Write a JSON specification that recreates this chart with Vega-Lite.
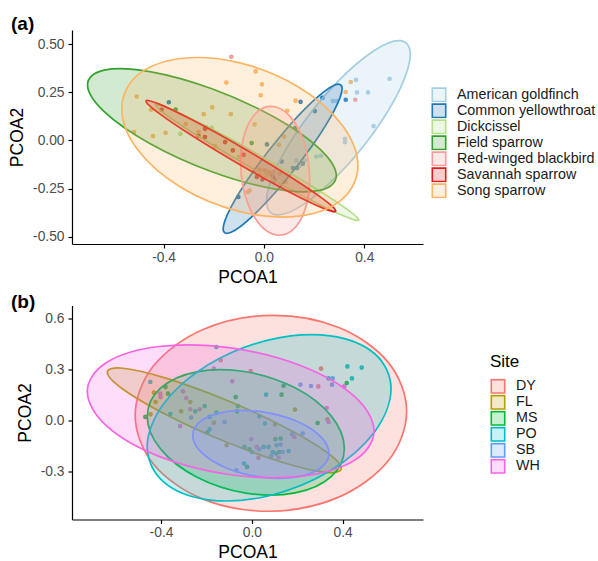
{
 "$schema": "https://vega.github.io/schema/vega-lite/v6.json",
 "padding": {"left": 8, "top": 15, "right": 5, "bottom": 0},
 "background": "white",
 "config": {
  "font": "Liberation Sans",
  "view": {"stroke": null},
  "axis": {"grid": false, "domainColor": "#000000", "domainWidth": 1.2, "tickColor": "#000000", "tickWidth": 1.2, "tickSize": 4, "labelPadding": 4, "labelFont": "Liberation Sans", "labelFontSize": 13.8, "labelColor": "#4d4d4d", "titleFont": "Liberation Sans", "titleFontSize": 17.5, "titleFontWeight": "normal", "titleColor": "#000000", "titlePadding": 6},
  "axisX": {"labelPadding": 2, "titlePadding": 4.5},
  "legend": {"padding": 0, "labelFont": "Liberation Sans", "labelFontSize": 14.3, "labelColor": "#1a1a1a", "labelOffset": 10, "rowPadding": 0, "clipHeight": 15.6, "symbolType": "square", "symbolSize": 180, "symbolStrokeWidth": 1.6, "titleFont": "Liberation Sans", "titleFontSize": 17, "titleFontWeight": "normal", "titleColor": "#000000", "titlePadding": 8}
 },
 "datasets": {
  "ptsA": [
   {"s": "American goldfinch", "x": 0.275, "y": 0.204}, {"s": "American goldfinch", "x": 0.291, "y": 0.204}, {"s": "American goldfinch", "x": 0.367, "y": 0.314}, {"s": "American goldfinch", "x": 0.371, "y": 0.249}, {"s": "American goldfinch", "x": 0.415, "y": 0.249}, {"s": "American goldfinch", "x": 0.501, "y": 0.320}, {"s": "American goldfinch", "x": 0.437, "y": 0.074}, {"s": "American goldfinch", "x": 0.323, "y": 0.008}, {"s": "American goldfinch", "x": 0.323, "y": -0.009}, {"s": "American goldfinch", "x": 0.209, "y": -0.084}, {"s": "American goldfinch", "x": 0.227, "y": -0.080}, {"s": "American goldfinch", "x": 0.142, "y": -0.133}, {"s": "American goldfinch", "x": 0.163, "y": -0.104}, {"s": "American goldfinch", "x": 0.129, "y": -0.104},
   {"s": "Common yellowthroat", "x": 0.146, "y": 0.200}, {"s": "Common yellowthroat", "x": -0.379, "y": 0.198}, {"s": "Common yellowthroat", "x": 0.203, "y": 0.152}, {"s": "Common yellowthroat", "x": 0.233, "y": 0.221}, {"s": "Common yellowthroat", "x": 0.326, "y": 0.211}, {"s": "Common yellowthroat", "x": 0.012, "y": -0.021}, {"s": "Common yellowthroat", "x": 0.071, "y": -0.110}, {"s": "Common yellowthroat", "x": 0.116, "y": -0.144}, {"s": "Common yellowthroat", "x": 0.132, "y": -0.144}, {"s": "Common yellowthroat", "x": 0.155, "y": -0.121}, {"s": "Common yellowthroat", "x": 0.043, "y": -0.208}, {"s": "Common yellowthroat", "x": -0.102, "y": -0.294},
   {"s": "Dickcissel", "x": -0.208, "y": 0.065}, {"s": "Dickcissel", "x": -0.333, "y": 0.034}, {"s": "Dickcissel", "x": -0.100, "y": -0.085},
   {"s": "Field sparrow", "x": -0.352, "y": 0.160}, {"s": "Field sparrow", "x": -0.049, "y": -0.014}, {"s": "Field sparrow", "x": 0.125, "y": 0.064}, {"s": "Field sparrow", "x": -0.230, "y": 0.067},
   {"s": "Red-winged blackbird", "x": -0.130, "y": 0.434}, {"s": "Red-winged blackbird", "x": 0.364, "y": 0.211}, {"s": "Red-winged blackbird", "x": 0.003, "y": -0.156}, {"s": "Red-winged blackbird", "x": 0.029, "y": -0.173},
   {"s": "Savannah sparrow", "x": -0.408, "y": 0.159}, {"s": "Savannah sparrow", "x": 0.036, "y": -0.190}, {"s": "Savannah sparrow", "x": -0.081, "y": -0.075}, {"s": "Savannah sparrow", "x": -0.028, "y": -0.190}, {"s": "Savannah sparrow", "x": -0.006, "y": -0.203}, {"s": "Savannah sparrow", "x": -0.235, "y": 0.060}, {"s": "Savannah sparrow", "x": -0.261, "y": 0.025}, {"s": "Savannah sparrow", "x": -0.235, "y": 0.017}, {"s": "Savannah sparrow", "x": -0.155, "y": -0.009}, {"s": "Savannah sparrow", "x": -0.124, "y": -0.052},
   {"s": "Song sparrow", "x": -0.033, "y": 0.358}, {"s": "Song sparrow", "x": -0.150, "y": 0.300}, {"s": "Song sparrow", "x": -0.008, "y": 0.291}, {"s": "Song sparrow", "x": -0.013, "y": 0.234}, {"s": "Song sparrow", "x": -0.507, "y": 0.228}, {"s": "Song sparrow", "x": 0.126, "y": 0.206}, {"s": "Song sparrow", "x": -0.206, "y": 0.171}, {"s": "Song sparrow", "x": -0.240, "y": 0.136}, {"s": "Song sparrow", "x": -0.132, "y": 0.136}, {"s": "Song sparrow", "x": -0.450, "y": 0.159}, {"s": "Song sparrow", "x": -0.312, "y": 0.085}, {"s": "Song sparrow", "x": 0.093, "y": 0.154}, {"s": "Song sparrow", "x": 0.326, "y": 0.251}, {"s": "Song sparrow", "x": 0.346, "y": 0.303}, {"s": "Song sparrow", "x": -0.037, "y": 0.083}, {"s": "Song sparrow", "x": 0.060, "y": -0.023}, {"s": "Song sparrow", "x": 0.080, "y": 0.020}, {"s": "Song sparrow", "x": -0.037, "y": -0.156}, {"s": "Song sparrow", "x": -0.017, "y": -0.153}, {"s": "Song sparrow", "x": 0.020, "y": -0.165}, {"s": "Song sparrow", "x": 0.039, "y": -0.165}, {"s": "Song sparrow", "x": -0.017, "y": -0.177}, {"s": "Song sparrow", "x": 0.010, "y": -0.182}, {"s": "Song sparrow", "x": 0.063, "y": -0.173}, {"s": "Song sparrow", "x": 0.086, "y": -0.216}, {"s": "Song sparrow", "x": -0.057, "y": -0.260}, {"s": "Song sparrow", "x": -0.064, "y": -0.268}, {"s": "Song sparrow", "x": -0.392, "y": 0.039}, {"s": "Song sparrow", "x": -0.442, "y": 0.022}, {"s": "Song sparrow", "x": -0.518, "y": 0.043}, {"s": "Song sparrow", "x": -0.195, "y": -0.030}, {"s": "Song sparrow", "x": -0.261, "y": 0.043}
  ],
  "ellA": [
   {"s": "American goldfinch", "i": 0, "x": 0.5833, "y": 0.4468}, {"s": "American goldfinch", "i": 1, "x": 0.5449, "y": 0.5174}, {"s": "American goldfinch", "i": 2, "x": 0.4400, "y": 0.4669}, {"s": "American goldfinch", "i": 3, "x": 0.2967, "y": 0.3088}, {"s": "American goldfinch", "i": 4, "x": 0.1534, "y": 0.0855}, {"s": "American goldfinch", "i": 5, "x": 0.0485, "y": -0.1432}, {"s": "American goldfinch", "i": 6, "x": 0.0101, "y": -0.3160}, {"s": "American goldfinch", "i": 7, "x": 0.0485, "y": -0.3866}, {"s": "American goldfinch", "i": 8, "x": 0.1534, "y": -0.3361}, {"s": "American goldfinch", "i": 9, "x": 0.2967, "y": -0.1780}, {"s": "American goldfinch", "i": 10, "x": 0.4400, "y": 0.0453}, {"s": "American goldfinch", "i": 11, "x": 0.5449, "y": 0.2740},
   {"s": "Common yellowthroat", "i": 0, "x": 0.3116, "y": 0.2693}, {"s": "Common yellowthroat", "i": 1, "x": 0.2798, "y": 0.2861}, {"s": "Common yellowthroat", "i": 2, "x": 0.1931, "y": 0.2006}, {"s": "Common yellowthroat", "i": 3, "x": 0.0745, "y": 0.0358}, {"s": "Common yellowthroat", "i": 4, "x": -0.0441, "y": -0.1642}, {"s": "Common yellowthroat", "i": 5, "x": -0.1308, "y": -0.3457}, {"s": "Common yellowthroat", "i": 6, "x": -0.1626, "y": -0.4603}, {"s": "Common yellowthroat", "i": 7, "x": -0.1308, "y": -0.4771}, {"s": "Common yellowthroat", "i": 8, "x": -0.0441, "y": -0.3916}, {"s": "Common yellowthroat", "i": 9, "x": 0.0745, "y": -0.2268}, {"s": "Common yellowthroat", "i": 10, "x": 0.1931, "y": -0.0268}, {"s": "Common yellowthroat", "i": 11, "x": 0.2798, "y": 0.1547},
   {"s": "Dickcissel", "i": 0, "x": 0.3778, "y": -0.4128}, {"s": "Dickcissel", "i": 1, "x": 0.3235, "y": -0.3505}, {"s": "Dickcissel", "i": 2, "x": 0.1754, "y": -0.2252}, {"s": "Dickcissel", "i": 3, "x": -0.0271, "y": -0.0702}, {"s": "Dickcissel", "i": 4, "x": -0.2296, "y": 0.0728}, {"s": "Dickcissel", "i": 5, "x": -0.3777, "y": 0.1655}, {"s": "Dickcissel", "i": 6, "x": -0.4320, "y": 0.1830}, {"s": "Dickcissel", "i": 7, "x": -0.3777, "y": 0.1207}, {"s": "Dickcissel", "i": 8, "x": -0.2296, "y": -0.0046}, {"s": "Dickcissel", "i": 9, "x": -0.0271, "y": -0.1596}, {"s": "Dickcissel", "i": 10, "x": 0.1754, "y": -0.3026}, {"s": "Dickcissel", "i": 11, "x": 0.3235, "y": -0.3953},
   {"s": "Field sparrow", "i": 0, "x": 0.2885, "y": -0.1837}, {"s": "Field sparrow", "i": 1, "x": 0.2221, "y": -0.0444}, {"s": "Field sparrow", "i": 2, "x": 0.0406, "y": 0.1208}, {"s": "Field sparrow", "i": 3, "x": -0.2073, "y": 0.2678}, {"s": "Field sparrow", "i": 4, "x": -0.4552, "y": 0.3570}, {"s": "Field sparrow", "i": 5, "x": -0.6367, "y": 0.3646}, {"s": "Field sparrow", "i": 6, "x": -0.7031, "y": 0.2885}, {"s": "Field sparrow", "i": 7, "x": -0.6367, "y": 0.1492}, {"s": "Field sparrow", "i": 8, "x": -0.4552, "y": -0.0160}, {"s": "Field sparrow", "i": 9, "x": -0.2073, "y": -0.1630}, {"s": "Field sparrow", "i": 10, "x": 0.0406, "y": -0.2522}, {"s": "Field sparrow", "i": 11, "x": 0.2221, "y": -0.2598},
   {"s": "Red-winged blackbird", "i": 0, "x": 0.1821, "y": -0.1993}, {"s": "Red-winged blackbird", "i": 1, "x": 0.1637, "y": -0.0276}, {"s": "Red-winged blackbird", "i": 2, "x": 0.1134, "y": 0.1090}, {"s": "Red-winged blackbird", "i": 3, "x": 0.0446, "y": 0.1743}, {"s": "Red-winged blackbird", "i": 4, "x": -0.0242, "y": 0.1506}, {"s": "Red-winged blackbird", "i": 5, "x": -0.0745, "y": 0.0442}, {"s": "Red-winged blackbird", "i": 6, "x": -0.0929, "y": -0.1163}, {"s": "Red-winged blackbird", "i": 7, "x": -0.0745, "y": -0.2880}, {"s": "Red-winged blackbird", "i": 8, "x": -0.0242, "y": -0.4246}, {"s": "Red-winged blackbird", "i": 9, "x": 0.0446, "y": -0.4899}, {"s": "Red-winged blackbird", "i": 10, "x": 0.1134, "y": -0.4662}, {"s": "Red-winged blackbird", "i": 11, "x": 0.1637, "y": -0.3598},
   {"s": "Savannah sparrow", "i": 0, "x": 0.2861, "y": -0.3661}, {"s": "Savannah sparrow", "i": 1, "x": 0.2354, "y": -0.3039}, {"s": "Savannah sparrow", "i": 2, "x": 0.0971, "y": -0.1821}, {"s": "Savannah sparrow", "i": 3, "x": -0.0919, "y": -0.0332}, {"s": "Savannah sparrow", "i": 4, "x": -0.2809, "y": 0.1029}, {"s": "Savannah sparrow", "i": 5, "x": -0.4192, "y": 0.1895}, {"s": "Savannah sparrow", "i": 6, "x": -0.4699, "y": 0.2037}, {"s": "Savannah sparrow", "i": 7, "x": -0.4192, "y": 0.1415}, {"s": "Savannah sparrow", "i": 8, "x": -0.2809, "y": 0.0197}, {"s": "Savannah sparrow", "i": 9, "x": -0.0919, "y": -0.1292}, {"s": "Savannah sparrow", "i": 10, "x": 0.0971, "y": -0.2653}, {"s": "Savannah sparrow", "i": 11, "x": 0.2354, "y": -0.3519},
   {"s": "Song sparrow", "i": 0, "x": 0.3746, "y": -0.1331}, {"s": "Song sparrow", "i": 1, "x": 0.3115, "y": 0.0800}, {"s": "Song sparrow", "i": 2, "x": 0.1393, "y": 0.2759}, {"s": "Song sparrow", "i": 3, "x": -0.0961, "y": 0.4022}, {"s": "Song sparrow", "i": 4, "x": -0.3315, "y": 0.4251}, {"s": "Song sparrow", "i": 5, "x": -0.5037, "y": 0.3384}, {"s": "Song sparrow", "i": 6, "x": -0.5668, "y": 0.1653}, {"s": "Song sparrow", "i": 7, "x": -0.5037, "y": -0.0478}, {"s": "Song sparrow", "i": 8, "x": -0.3315, "y": -0.2437}, {"s": "Song sparrow", "i": 9, "x": -0.0961, "y": -0.3700}, {"s": "Song sparrow", "i": 10, "x": 0.1393, "y": -0.3929}, {"s": "Song sparrow", "i": 11, "x": 0.3115, "y": -0.3062}
  ],
  "ptsB": [
   {"s": "DY", "x": -0.137, "y": 0.354}, {"s": "DY", "x": -0.005, "y": 0.291}, {"s": "DY", "x": 0.305, "y": 0.305}, {"s": "DY", "x": 0.293, "y": 0.200}, {"s": "DY", "x": 0.333, "y": 0.006}, {"s": "DY", "x": 0.029, "y": -0.222},
   {"s": "FL", "x": 0.190, "y": 0.063}, {"s": "FL", "x": 0.102, "y": -0.024}, {"s": "FL", "x": -0.111, "y": -0.147}, {"s": "FL", "x": -0.431, "y": 0.163}, {"s": "FL", "x": -0.424, "y": 0.108}, {"s": "FL", "x": -0.446, "y": 0.035}, {"s": "FL", "x": -0.271, "y": 0.108}, {"s": "FL", "x": -0.311, "y": 0.053}, {"s": "FL", "x": -0.167, "y": -0.014},
   {"s": "MS", "x": 0.418, "y": 0.220}, {"s": "MS", "x": 0.140, "y": 0.204}, {"s": "MS", "x": 0.131, "y": 0.151}, {"s": "MS", "x": 0.290, "y": -0.016}, {"s": "MS", "x": 0.104, "y": -0.112}, {"s": "MS", "x": 0.127, "y": -0.108}, {"s": "MS", "x": -0.011, "y": -0.171}, {"s": "MS", "x": 0.121, "y": -0.187}, {"s": "MS", "x": -0.021, "y": -0.275}, {"s": "MS", "x": -0.380, "y": 0.196}, {"s": "MS", "x": -0.369, "y": 0.157}, {"s": "MS", "x": -0.469, "y": 0.020}, {"s": "MS", "x": -0.071, "y": 0.137}, {"s": "MS", "x": -0.065, "y": 0.053}, {"s": "MS", "x": -0.196, "y": -0.072},
   {"s": "PO", "x": -0.156, "y": 0.432}, {"s": "PO", "x": 0.421, "y": 0.318}, {"s": "PO", "x": 0.484, "y": 0.311}, {"s": "PO", "x": 0.441, "y": 0.247}, {"s": "PO", "x": 0.338, "y": 0.247}, {"s": "PO", "x": 0.063, "y": 0.151}, {"s": "PO", "x": 0.033, "y": 0.024}, {"s": "PO", "x": 0.058, "y": -0.019}, {"s": "PO", "x": 0.109, "y": -0.147}, {"s": "PO", "x": -0.033, "y": -0.157}, {"s": "PO", "x": 0.001, "y": -0.187}, {"s": "PO", "x": 0.052, "y": -0.157}, {"s": "PO", "x": 0.074, "y": -0.157}, {"s": "PO", "x": 0.092, "y": -0.187}, {"s": "PO", "x": 0.107, "y": -0.196}, {"s": "PO", "x": 0.162, "y": -0.181}, {"s": "PO", "x": -0.034, "y": -0.255}, {"s": "PO", "x": -0.447, "y": 0.226}, {"s": "PO", "x": -0.249, "y": 0.053}, {"s": "PO", "x": -0.208, "y": 0.084}, {"s": "PO", "x": -0.359, "y": 0.037}, {"s": "PO", "x": -0.061, "y": 0.084}, {"s": "PO", "x": -0.156, "y": 0.045}, {"s": "PO", "x": -0.186, "y": 0.020}, {"s": "PO", "x": -0.186, "y": -0.053},
   {"s": "SB", "x": 0.356, "y": 0.247}, {"s": "SB", "x": 0.353, "y": 0.210}, {"s": "SB", "x": 0.214, "y": 0.210}, {"s": "SB", "x": 0.261, "y": 0.202}, {"s": "SB", "x": 0.224, "y": -0.078}, {"s": "SB", "x": 0.177, "y": -0.082}, {"s": "SB", "x": 0.127, "y": -0.143}, {"s": "SB", "x": 0.033, "y": -0.171}, {"s": "SB", "x": 0.085, "y": -0.210}, {"s": "SB", "x": 0.136, "y": -0.187}, {"s": "SB", "x": -0.068, "y": -0.295}, {"s": "SB", "x": -0.267, "y": 0.016}, {"s": "SB", "x": -0.120, "y": -0.010},
   {"s": "WH", "x": -0.167, "y": 0.305}, {"s": "WH", "x": 0.407, "y": 0.200}, {"s": "WH", "x": 0.330, "y": 0.072}, {"s": "WH", "x": 0.338, "y": -0.010}, {"s": "WH", "x": 0.187, "y": -0.098}, {"s": "WH", "x": -0.002, "y": -0.112}, {"s": "WH", "x": 0.021, "y": -0.157}, {"s": "WH", "x": 0.118, "y": -0.220}, {"s": "WH", "x": -0.403, "y": 0.157}, {"s": "WH", "x": -0.402, "y": 0.137}, {"s": "WH", "x": -0.303, "y": 0.171}, {"s": "WH", "x": -0.289, "y": 0.131}, {"s": "WH", "x": -0.271, "y": 0.065}, {"s": "WH", "x": -0.230, "y": 0.065}, {"s": "WH", "x": -0.316, "y": -0.034}, {"s": "WH", "x": -0.086, "y": 0.230}
  ],
  "ellB": [
   {"s": "DY", "i": 0, "x": 0.6819, "y": 0.0530}, {"s": "DY", "i": 1, "x": 0.6018, "y": 0.3402}, {"s": "DY", "i": 2, "x": 0.3830, "y": 0.5472}, {"s": "DY", "i": 3, "x": 0.0841, "y": 0.6187}, {"s": "DY", "i": 4, "x": -0.2148, "y": 0.5354}, {"s": "DY", "i": 5, "x": -0.4336, "y": 0.3198}, {"s": "DY", "i": 6, "x": -0.5137, "y": 0.0294}, {"s": "DY", "i": 7, "x": -0.4336, "y": -0.2578}, {"s": "DY", "i": 8, "x": -0.2148, "y": -0.4648}, {"s": "DY", "i": 9, "x": 0.0841, "y": -0.5363}, {"s": "DY", "i": 10, "x": 0.3830, "y": -0.4530}, {"s": "DY", "i": 11, "x": 0.6018, "y": -0.2374},
   {"s": "FL", "i": 0, "x": 0.3943, "y": -0.2829}, {"s": "FL", "i": 1, "x": 0.3252, "y": -0.1831}, {"s": "FL", "i": 2, "x": 0.1366, "y": -0.0344}, {"s": "FL", "i": 3, "x": -0.1211, "y": 0.1237}, {"s": "FL", "i": 4, "x": -0.3788, "y": 0.2486}, {"s": "FL", "i": 5, "x": -0.5674, "y": 0.3069}, {"s": "FL", "i": 6, "x": -0.6365, "y": 0.2829}, {"s": "FL", "i": 7, "x": -0.5674, "y": 0.1831}, {"s": "FL", "i": 8, "x": -0.3788, "y": 0.0344}, {"s": "FL", "i": 9, "x": -0.1211, "y": -0.1237}, {"s": "FL", "i": 10, "x": 0.1366, "y": -0.2486}, {"s": "FL", "i": 11, "x": 0.3252, "y": -0.3069},
   {"s": "MS", "i": 0, "x": 0.4075, "y": -0.1656}, {"s": "MS", "i": 1, "x": 0.3494, "y": 0.0259}, {"s": "MS", "i": 2, "x": 0.1906, "y": 0.1913}, {"s": "MS", "i": 3, "x": -0.0264, "y": 0.2864}, {"s": "MS", "i": 4, "x": -0.2434, "y": 0.2857}, {"s": "MS", "i": 5, "x": -0.4022, "y": 0.1893}, {"s": "MS", "i": 6, "x": -0.4603, "y": 0.0230}, {"s": "MS", "i": 7, "x": -0.4022, "y": -0.1685}, {"s": "MS", "i": 8, "x": -0.2434, "y": -0.3339}, {"s": "MS", "i": 9, "x": -0.0264, "y": -0.4290}, {"s": "MS", "i": 10, "x": 0.1906, "y": -0.4283}, {"s": "MS", "i": 11, "x": 0.3494, "y": -0.3319},
   {"s": "PO", "i": 0, "x": 0.6132, "y": 0.1856}, {"s": "PO", "i": 1, "x": 0.5412, "y": 0.3925}, {"s": "PO", "i": 2, "x": 0.3447, "y": 0.4982}, {"s": "PO", "i": 3, "x": 0.0762, "y": 0.4743}, {"s": "PO", "i": 4, "x": -0.1923, "y": 0.3272}, {"s": "PO", "i": 5, "x": -0.3888, "y": 0.0965}, {"s": "PO", "i": 6, "x": -0.4608, "y": -0.1562}, {"s": "PO", "i": 7, "x": -0.3888, "y": -0.3631}, {"s": "PO", "i": 8, "x": -0.1923, "y": -0.4688}, {"s": "PO", "i": 9, "x": 0.0762, "y": -0.4449}, {"s": "PO", "i": 10, "x": 0.3447, "y": -0.2978}, {"s": "PO", "i": 11, "x": 0.5412, "y": -0.0671},
   {"s": "SB", "i": 0, "x": 0.3401, "y": -0.1950}, {"s": "SB", "i": 1, "x": 0.2999, "y": -0.0915}, {"s": "SB", "i": 2, "x": 0.1901, "y": -0.0016}, {"s": "SB", "i": 3, "x": 0.0401, "y": 0.0507}, {"s": "SB", "i": 4, "x": -0.1099, "y": 0.0514}, {"s": "SB", "i": 5, "x": -0.2197, "y": 0.0003}, {"s": "SB", "i": 6, "x": -0.2599, "y": -0.0890}, {"s": "SB", "i": 7, "x": -0.2197, "y": -0.1925}, {"s": "SB", "i": 8, "x": -0.1099, "y": -0.2824}, {"s": "SB", "i": 9, "x": 0.0401, "y": -0.3347}, {"s": "SB", "i": 10, "x": 0.1901, "y": -0.3354}, {"s": "SB", "i": 11, "x": 0.2999, "y": -0.2843},
   {"s": "WH", "i": 0, "x": 0.5381, "y": -0.0634}, {"s": "WH", "i": 1, "x": 0.4535, "y": 0.1393}, {"s": "WH", "i": 2, "x": 0.2225, "y": 0.3189}, {"s": "WH", "i": 3, "x": -0.0932, "y": 0.4272}, {"s": "WH", "i": 4, "x": -0.4089, "y": 0.4353}, {"s": "WH", "i": 5, "x": -0.6399, "y": 0.3409}, {"s": "WH", "i": 6, "x": -0.7245, "y": 0.1694}, {"s": "WH", "i": 7, "x": -0.6399, "y": -0.0333}, {"s": "WH", "i": 8, "x": -0.4089, "y": -0.2129}, {"s": "WH", "i": 9, "x": -0.0932, "y": -0.3212}, {"s": "WH", "i": 10, "x": 0.2225, "y": -0.3293}, {"s": "WH", "i": 11, "x": 0.4535, "y": -0.2349}
  ]
 },
 "spacing": 6.5,
 "vconcat": [
  {
   "width": 351, "height": 214,
   "title": {"text": "(a)", "anchor": "start", "frame": "group", "dx": -61, "fontSize": 19, "fontWeight": "bold", "color": "#000000", "offset": -4},
   "layer": [
    {
     "data": {"name": "ptsA"},
     "mark": {"type": "circle", "size": 7, "opacity": 1, "strokeWidth": 2},
     "encoding": {
      "x": {"field": "x", "type": "quantitative", "scale": {"domain": [-0.765, 0.634], "nice": false, "zero": false}, "axis": {"title": "PCOA1", "values": [-0.4, 0, 0.4], "format": ".1f", "labelExpr": "replace(datum.label, '\u2212', '-')"}},
      "y": {"field": "y", "type": "quantitative", "scale": {"domain": [-0.538, 0.573], "nice": false, "zero": false}, "axis": {"title": "PCOA2", "values": [-0.5, -0.25, 0, 0.25, 0.5], "format": ".2f", "labelExpr": "replace(datum.label, '\u2212', '-')"}},
      "fill": {"field": "s", "type": "nominal", "scale": {"domain": ["American goldfinch", "Common yellowthroat", "Dickcissel", "Field sparrow", "Red-winged blackbird", "Savannah sparrow", "Song sparrow"], "range": ["rgba(166,206,227,0.22)", "rgba(31,120,180,0.22)", "rgba(178,223,138,0.22)", "rgba(51,160,44,0.22)", "rgba(251,154,153,0.22)", "rgba(227,26,28,0.22)", "rgba(253,180,98,0.22)"]}, "legend": {"title": null, "orient": "none", "legendX": 359, "legendY": 57, "symbolType": "square", "symbolStrokeWidth": 1.6}},
      "stroke": {"field": "s", "type": "nominal", "scale": {"domain": ["American goldfinch", "Common yellowthroat", "Dickcissel", "Field sparrow", "Red-winged blackbird", "Savannah sparrow", "Song sparrow"], "range": ["#a6cee3", "#1f78b4", "#b2df8a", "#33a02c", "#fb9a99", "#e31a1c", "#fdb462"]}, "legend": {"title": null, "orient": "none", "legendX": 359, "legendY": 57, "symbolType": "square", "symbolStrokeWidth": 1.6}}
     }
    },
    {
     "data": {"name": "ellA"},
     "mark": {"type": "line", "interpolate": "cardinal-closed", "strokeWidth": 1.7},
     "encoding": {
      "x": {"field": "x", "type": "quantitative"},
      "y": {"field": "y", "type": "quantitative"},
      "order": {"field": "i", "type": "quantitative"},
      "fill": {"field": "s", "type": "nominal"},
      "stroke": {"field": "s", "type": "nominal"}
     }
    }
   ]
  },
  {
   "width": 351, "height": 214,
   "title": {"text": "(b)", "anchor": "start", "frame": "group", "dx": -61, "fontSize": 19, "fontWeight": "bold", "color": "#000000", "offset": -6.4},
   "layer": [
    {
     "data": {"name": "ptsB"},
     "mark": {"type": "circle", "size": 7, "opacity": 1, "strokeWidth": 2},
     "encoding": {
      "x": {"field": "x", "type": "quantitative", "scale": {"domain": [-0.792, 0.754], "nice": false, "zero": false}, "axis": {"title": "PCOA1", "values": [-0.4, 0, 0.4], "format": ".1f", "labelExpr": "replace(datum.label, '\u2212', '-')"}},
      "y": {"field": "y", "type": "quantitative", "scale": {"domain": [-0.585, 0.677], "nice": false, "zero": false}, "axis": {"title": "PCOA2", "values": [-0.3, 0, 0.3, 0.6], "format": ".1f", "labelExpr": "replace(datum.label, '\u2212', '-')"}},
      "fill": {"field": "s", "type": "nominal", "scale": {"domain": ["DY", "FL", "MS", "PO", "SB", "WH"], "range": ["rgba(248,118,109,0.22)", "rgba(183,159,0,0.22)", "rgba(0,186,56,0.22)", "rgba(0,191,196,0.22)", "rgba(97,156,255,0.22)", "rgba(245,100,227,0.22)"]}, "legend": {"title": "Site", "orient": "none", "legendX": 418, "legendY": 48, "symbolType": "square", "symbolStrokeWidth": 1.6}},
      "stroke": {"field": "s", "type": "nominal", "scale": {"domain": ["DY", "FL", "MS", "PO", "SB", "WH"], "range": ["#F8766D", "#B79F00", "#00BA38", "#00BFC4", "#619CFF", "#F564E3"]}, "legend": {"title": "Site", "orient": "none", "legendX": 418, "legendY": 48, "symbolType": "square", "symbolStrokeWidth": 1.6}}
     }
    },
    {
     "data": {"name": "ellB"},
     "mark": {"type": "line", "interpolate": "cardinal-closed", "strokeWidth": 1.7},
     "encoding": {
      "x": {"field": "x", "type": "quantitative"},
      "y": {"field": "y", "type": "quantitative"},
      "order": {"field": "i", "type": "quantitative"},
      "fill": {"field": "s", "type": "nominal"},
      "stroke": {"field": "s", "type": "nominal"}
     }
    }
   ]
  }
 ],
 "resolve": {"scale": {"fill": "independent", "stroke": "independent", "x": "independent", "y": "independent"}, "legend": {"fill": "independent", "stroke": "independent"}}
}
